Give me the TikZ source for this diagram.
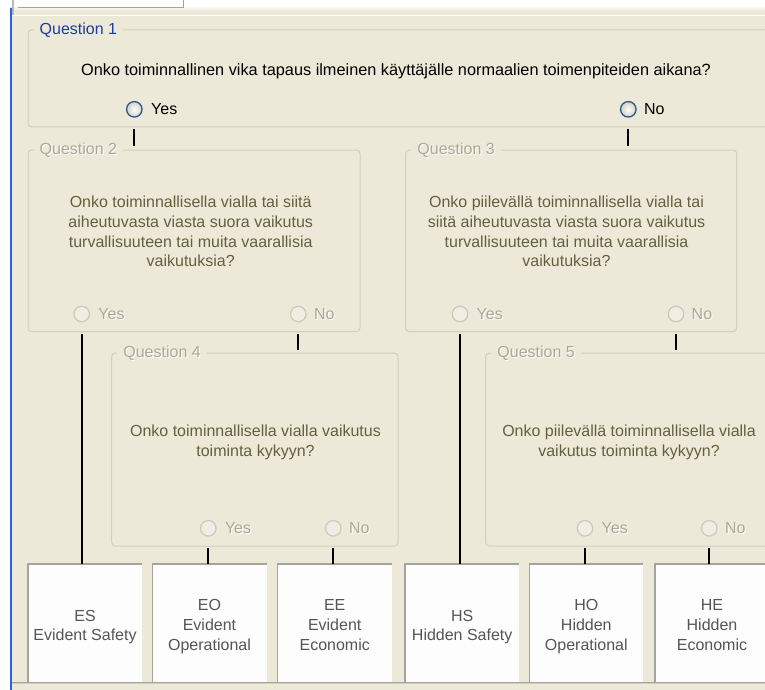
\documentclass[tikz,border=0pt]{standalone}
\usepackage{fontspec}
\setmainfont{Liberation Sans}
\usetikzlibrary{calc}

\definecolor{panel}{HTML}{ECE9D8}
\definecolor{cream}{HTML}{F7F6EE}
\definecolor{framecol}{HTML}{D0D0BF}
\definecolor{xpblue}{HTML}{2A62E0}
\definecolor{capblue}{HTML}{1E3C9E}
\definecolor{olive}{HTML}{64603F}
\definecolor{disgray}{HTML}{ACA899}
\definecolor{resgray}{HTML}{555555}
\definecolor{boxedge}{HTML}{A5A39A}
\definecolor{radioblue}{HTML}{2C5A88}
\definecolor{radioshade}{HTML}{D2D0C6}
\definecolor{radiooffdraw}{HTML}{CBC9BC}
\definecolor{radiofill}{HTML}{EFEDE4}
\definecolor{resultwhite}{HTML}{FDFDFD}

% greyed-out text with a white engraved shadow
\newcommand\engraved[1]{\makebox[0pt][l]{\kern1pt\raisebox{-1pt}{\color{white}#1}}#1}

\tikzset{
  qframe/.style={draw=framecol, line width=1pt, rounded corners=3.5pt, inner sep=0pt},
  qcaption/.style={anchor=base west, fill=panel, inner xsep=6pt, inner ysep=1pt},
  % multi-line nodes: the base anchor sits on the last line
  qtext/.style={anchor=base, inner sep=0pt, align=center},
  radioon/.style={circle, draw=radioblue, line width=1.3pt, inner color=white,
                  outer color=radioshade, minimum size=15.5pt, inner sep=0pt},
  radiooff/.style={circle, draw=radiooffdraw, line width=1.2pt, fill=radiofill,
                   minimum size=15.5pt, inner sep=0pt},
  optlabel/.style={anchor=base west, inner sep=0pt},
  conn/.style={line width=1.7pt, black},
  result/.style={fill=resultwhite, minimum width=114pt, minimum height=118pt,
                 inner sep=0pt, outer sep=0pt},
  resulttext/.style={anchor=base, align=center, inner sep=0pt, text=resgray},
}

\begin{document}
\begin{tikzpicture}[x=1pt, y=-1pt, font=\fontsize{16pt}{19.6pt}\selectfont]
\useasboundingbox (0,0) rectangle (765,690);
\clip (0,0) rectangle (765,690);

% window background and edges
\fill[panel] (0,0) rectangle (765,690);
\fill[white] (0,0) rectangle (765,7);
\fill[cream] (12,7) rectangle (765,10);
\draw[white, line width=1pt] (12,15.5) -- (765,15.5);
\draw[boxedge, line width=0.8pt] (18,7.3) -- (183,7.3) -- (183,0);
\fill[white] (0,0) rectangle (10,690);
\fill[gray!55] (12,0) rectangle (14,15);
\fill[xpblue] (10,8) rectangle (12,690);

% question frames
\node[qframe, minimum width=742pt, minimum height=97pt]    (q1) at (399,78.5)     {};
\node[qframe, minimum width=332pt, minimum height=181.5pt] (q2) at (194,240.75)   {};
\node[qframe, minimum width=331pt, minimum height=181.5pt] (q3) at (571.2,240.75) {};
\node[qframe, minimum width=286.3pt, minimum height=193pt] (q4) at (254.85,449.5) {};
\node[qframe, minimum width=286.3pt, minimum height=193pt] (q5) at (628.85,449.5) {};

% frame captions
\node[qcaption, text=capblue] (q1c) at ([xshift=6pt,yshift=-5pt]q1.north west) {Question 1};
\node[qcaption, text=disgray] (q2c) at ([xshift=6pt,yshift=-5pt]q2.north west) {\engraved{Question 2}};
\node[qcaption, text=disgray] (q3c) at ([xshift=6pt,yshift=-5pt]q3.north west) {\engraved{Question 3}};
\node[qcaption, text=disgray] (q4c) at ([xshift=6pt,yshift=-5pt]q4.north west) {\engraved{Question 4}};
\node[qcaption, text=disgray] (q5c) at ([xshift=6pt,yshift=-5pt]q5.north west) {\engraved{Question 5}};

% question texts
\node[qtext, font=\fontsize{16.3pt}{19.6pt}\selectfont] (q1t) at (396,76)
  {Onko toiminnallinen vika tapaus ilmeinen käyttäjälle normaalien toimenpiteiden aikana?};
\node[qtext, text=olive] (q2t) at (190.7,266.6)
  {Onko toiminnallisella vialla tai siitä\\aiheutuvasta viasta suora vaikutus\\turvallisuuteen tai muita vaarallisia\\vaikutuksia?};
\node[qtext, text=olive] (q3t) at (566.5,266.6)
  {Onko piilevällä toiminnallisella vialla tai\\siitä aiheutuvasta viasta suora vaikutus\\turvallisuuteen tai muita vaarallisia\\vaikutuksia?};
\node[qtext, text=olive] (q4t) at (255.5,456.5)
  {Onko toiminnallisella vialla vaikutus\\toiminta kykyyn?};
\node[qtext, text=olive] (q5t) at (629,456.5)
  {Onko piilevällä toiminnallisella vialla\\vaikutus toiminta kykyyn?};

% radio buttons
\node[radioon]  (q1y) at (134.3,109.3) {};
\node[radioon]  (q1n) at (628.3,109.3) {};
\node[radiooff] (q2y) at (81.7,314)    {};
\node[radiooff] (q2n) at (298.3,314)   {};
\node[radiooff] (q3y) at (460,314)     {};
\node[radiooff] (q3n) at (676,314)     {};
\node[radiooff] (q4y) at (208.3,528.3) {};
\node[radiooff] (q4n) at (333.3,528.3) {};
\node[radiooff] (q5y) at (585,528.3)   {};
\node[radiooff] (q5n) at (709.3,528.3) {};

\node[optlabel] (q1yl) at ([xshift=16.7pt,yshift=-5pt]q1y.center) {Yes};
\node[optlabel] (q1nl) at ([xshift=15.5pt,yshift=-5pt]q1n.center) {No};
\foreach \r in {q2,q3,q4,q5}{
  \node[optlabel, text=disgray] (\r yl) at ([xshift=16.5pt,yshift=-5pt]\r y.center) {\engraved{Yes}};
  \node[optlabel, text=disgray] (\r nl) at ([xshift=15.5pt,yshift=-5pt]\r n.center) {\engraved{No}};
}

% result boxes
\node[result] (es) at (85,623)    {};
\node[result] (eo) at (209.5,623) {};
\node[result] (ee) at (334.7,623) {};
\node[result] (hs) at (462.2,623) {};
\node[result] (ho) at (586.3,623) {};
\node[result] (he) at (712,623)   {};
\foreach \b in {es,eo,ee,hs,ho,he}{
  \draw[boxedge, line width=1.5pt] (\b.south west) -- (\b.north west) -- (\b.north east);
}

\node[resulttext] (est) at ([yshift=-17.7pt]es.center) {ES\\Evident Safety};
\node[resulttext] (eot) at ([yshift=-27pt]eo.center)   {EO\\Evident\\Operational};
\node[resulttext] (eet) at ([yshift=-27pt]ee.center)   {EE\\Evident\\Economic};
\node[resulttext] (hst) at ([yshift=-17.7pt]hs.center) {HS\\Hidden Safety};
\node[resulttext] (hot) at ([yshift=-27pt]ho.center)   {HO\\Hidden\\Operational};
\node[resulttext] (het) at ([yshift=-27pt]he.center)   {HE\\Hidden\\Economic};

% connectors between answers and the next step
\draw[conn] ([yshift=-1.5pt]q1.south -| q1y) -- ([yshift=4pt]q2.north -| q1y);
\draw[conn] ([yshift=-1.5pt]q1.south -| q1n) -- ([yshift=4pt]q3.north -| q1n);
\draw[conn] ([yshift=-1.5pt]q2.south -| q2y) -- (es.north -| q2y);
\draw[conn] ([yshift=-1.5pt]q2.south -| q2n) -- ([yshift=3pt]q4.north -| q2n);
\draw[conn] ([yshift=-1.5pt]q3.south -| q3y) -- (hs.north -| q3y);
\draw[conn] ([yshift=-1.5pt]q3.south -| q3n) -- ([yshift=3pt]q5.north -| q3n);
\draw[conn] ([yshift=-1pt]q4.south -| q4y) -- (eo.north -| q4y);
\draw[conn] ([yshift=-1pt]q4.south -| q4n) -- (ee.north -| q4n);
\draw[conn] ([yshift=-1pt]q5.south -| q5y) -- (ho.north -| q5y);
\draw[conn] ([yshift=-1pt]q5.south -| q5n) -- (he.north -| q5n);

% bottom edge of the panel
\draw[boxedge, line width=1pt] (12,682.8) -- (765,682.8);
\draw[framecol, line width=1pt] (12,683.8) -- (765,683.8);
\end{tikzpicture}
\end{document}
